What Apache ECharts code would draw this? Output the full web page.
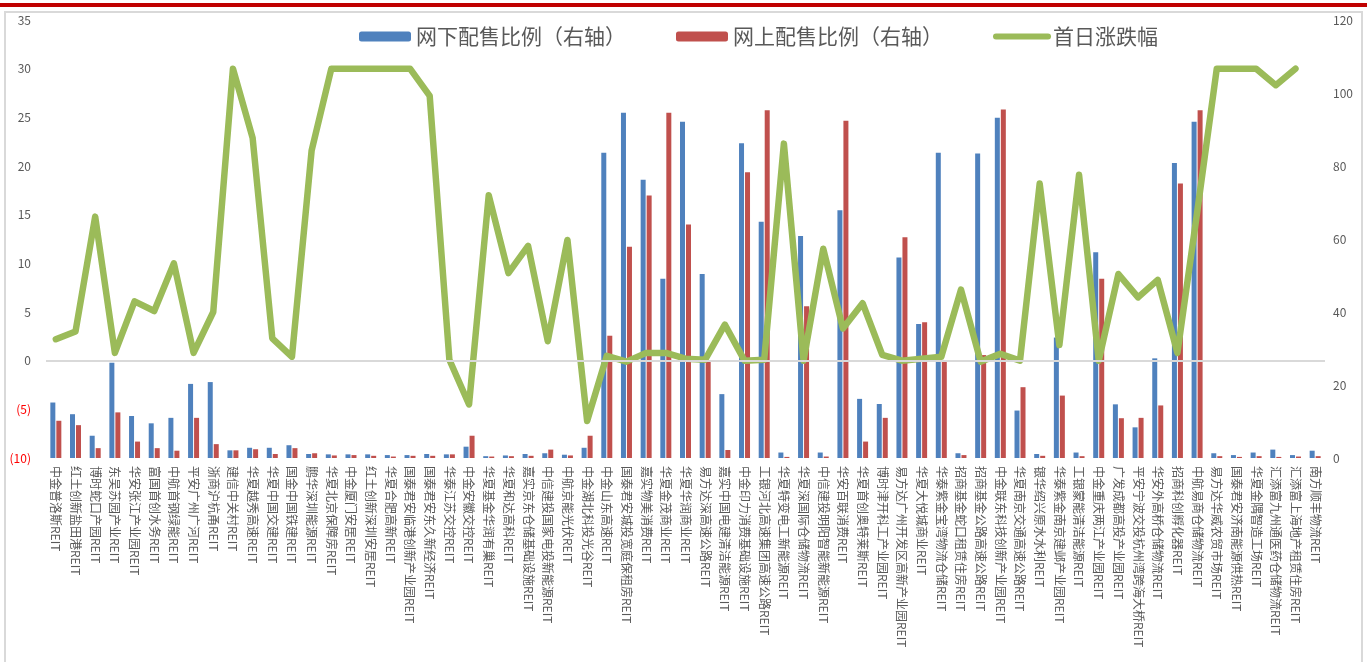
<!DOCTYPE html>
<html>
<head>
<meta charset="utf-8">
<script src="https://cdn.jsdelivr.net/npm/echarts@6/dist/echarts.min.js"></script>
<style>
  html, body { margin: 0; padding: 0; background: #fff; }
  #main { width: 1367px; height: 662px; }
</style>
</head>
<body>
<div id="main"></div>
<script type="text/javascript">
// REIT名称
var cats = ['中金普洛斯REIT','红土创新盐田港REIT','博时蛇口产园REIT','东吴苏园产业REIT','华安张江产业园REIT',
  '富国首创水务REIT','中航首钢绿能REIT','平安广州广河REIT','浙商沪杭甬REIT','建信中关村REIT',
  '华夏越秀高速REIT','华夏中国交建REIT','国金中国铁建REIT','鹏华深圳能源REIT','华夏北京保障房REIT',
  '中金厦门安居REIT','红土创新深圳安居REIT','华夏合肥高新REIT','国泰君安临港创新产业园REIT','国泰君安东久新经济REIT',
  '华泰江苏交控REIT','中金安徽交控REIT','华夏基金华润有巢REIT','华夏和达高科REIT','嘉实京东仓储基础设施REIT',
  '中信建投国家电投新能源REIT','中航京能光伏REIT','中金湖北科投光谷REIT','中金山东高速REIT','国泰君安城投宽庭保租房REIT',
  '嘉实物美消费REIT','华夏金茂商业REIT','华夏华润商业REIT','易方达深高速公路REIT','嘉实中国电建清洁能源REIT',
  '中金印力消费基础设施REIT','工银河北高速集团高速公路REIT','华夏特变电工新能源REIT','华夏深国际仓储物流REIT','中信建投明阳智能新能源REIT',
  '华安百联消费REIT','华夏首创奥特莱斯REIT','博时津开科工产业园REIT','易方达广州开发区高新产业园REIT','华夏大悦城商业REIT',
  '华泰紫金宝湾物流仓储REIT','招商基金蛇口租赁住房REIT','招商基金公路高速公路REIT','中金联东科技创新产业园REIT','华夏南京交通高速公路REIT',
  '银华绍兴原水水利REIT','华泰紫金南京建邺产业园REIT','工银蒙能清洁能源REIT','中金重庆两江产业园REIT','广发成都高投产业园REIT',
  '平安宁波交投杭州湾跨海大桥REIT','华安外高桥仓储物流REIT','招商科创孵化器REIT','中航易商仓储物流REIT','易方达华威农贸市场REIT',
  '国泰君安济南能源供热REIT','华夏金隅智造工场REIT','汇添富九州通医药仓储物流REIT','汇添富上海地产租赁住房REIT','南方顺丰物流REIT'];

// 网下配售比例（右轴）
var offline = [15.2, 12.0, 6.1, 26.1, 11.5, 9.5, 11.0, 20.3, 20.8, 2.1,
  2.8, 2.8, 3.5, 1.1, 1.0, 1.0, 1.0, 0.8, 0.8, 1.1,
  1.0, 3.1, 0.5, 0.7, 1.1, 1.3, 0.9, 2.8, 83.6, 94.6,
  76.2, 49.1, 92.1, 50.4, 17.5, 86.2, 64.7, 1.5, 60.8, 1.5,
  67.9, 16.2, 14.8, 54.9, 36.7, 83.6, 1.3, 83.4, 93.2, 13.0,
  1.1, 33.0, 1.5, 56.4, 14.7, 8.4, 27.3, 80.8, 92.1, 1.3,
  0.8, 1.5, 2.3, 0.8, 2.0];

// 网上配售比例（右轴）
var online = [10.2, 9.0, 2.7, 12.5, 4.5, 2.7, 2.0, 11.0, 3.8, 2.1,
  2.4, 1.1, 2.7, 1.3, 0.7, 0.8, 0.6, 0.4, 0.6, 0.6,
  1.0, 6.1, 0.4, 0.5, 0.6, 2.3, 0.7, 6.1, 33.5, 57.9,
  71.9, 94.6, 64.0, 26.8, 2.2, 78.3, 95.3, 0.3, 41.6, 0.4,
  92.4, 4.5, 11.0, 60.5, 37.2, 26.6, 0.8, 28.2, 95.5, 19.4,
  0.6, 17.1, 0.5, 49.1, 10.9, 11.0, 14.4, 75.2, 95.3, 0.5,
  0.3, 0.5, 0.3, 0.4, 0.5];

// 首日涨跌幅（左轴）
var firstDay = [2.2, 3.0, 14.8, 0.8, 6.1, 5.1, 10.0, 0.8, 5.0, 30,
  22.9, 2.3, 0.4, 21.6, 30, 30, 30, 30, 30, 27.2,
  0.1, -4.5, 17.0, 9.0, 11.8, 2.0, 12.4, -6.2, 0.5, -0.1,
  0.8, 0.8, 0.2, 0.1, 3.7, 0.0, 0.1, 22.3, 0.0, 11.5,
  3.3, 5.9, 0.6, 0.0, 0.2, 0.4, 7.3, -0.1, 0.7, 0.0,
  18.2, 1.6, 19.1, 0.0, 8.9, 6.5, 8.3, 0.8, 15.2, 30,
  30, 30, 28.3, 30, null];

var font = "'Noto Sans CJK SC', 'Noto Sans', sans-serif";
var chart = echarts.init(document.getElementById('main'));

var option = {
  backgroundColor: '#fff',
  textStyle: { fontFamily: font },
  animation: false,
  graphic: [
    { type: 'rect', shape: { x: 0, y: 3, width: 1367, height: 4 }, style: { fill: '#C00000' }, silent: true },
    { type: 'rect', shape: { x: 5, y: 12, width: 1357, height: 660 }, style: { fill: 'none', stroke: '#D9D9D9', lineWidth: 2 }, silent: true }
  ],
  legend: {
    left: 354,
    top: 21,
    itemWidth: 52,
    itemHeight: 10,
    itemGap: 50,
    textStyle: { fontSize: 21, color: '#595959', fontFamily: font },
    data: [
      '网下配售比例（右轴）',
      '网上配售比例（右轴）',
      { name: '首日涨跌幅', itemStyle: { opacity: 0 }, lineStyle: { width: 6, cap: 'round' } }
    ]
  },
  grid: { left: 46, right: 42, top: 20, bottom: 204, containLabel: false },
  xAxis: {
    type: 'category',
    data: cats,
    axisLine: { show: false },
    axisTick: { show: false },
    axisLabel: { interval: 0, rotate: -90, fontSize: 12, color: '#595959', margin: 8 }
  },
  yAxis: [
    {
      type: 'value', min: -10, max: 35, interval: 5,
      axisLine: { show: false }, axisTick: { show: false }, splitLine: { show: false },
      axisLabel: {
        fontSize: 12, color: '#595959', margin: 15,
        formatter: function (v) { return v < 0 ? '{neg|(' + Math.abs(v) + ')}' : v; },
        rich: { neg: { color: '#FF0000', fontSize: 12 } }
      }
    },
    {
      type: 'value', min: 0, max: 120, interval: 20,
      axisLine: { show: false }, axisTick: { show: false }, splitLine: { show: false },
      axisLabel: { fontSize: 12, color: '#595959', margin: 8 }
    }
  ],
  series: [
    {
      name: '网下配售比例（右轴）', type: 'bar', yAxisIndex: 1,
      barWidth: 5, barGap: '20%',
      itemStyle: { color: '#4F81BD' },
      data: offline
    },
    {
      name: '网上配售比例（右轴）', type: 'bar', yAxisIndex: 1,
      barWidth: 5, barGap: '20%',
      itemStyle: { color: '#C0504D' },
      data: online
    },
    {
      name: '首日涨跌幅', type: 'line', yAxisIndex: 0,
      symbol: 'none', connectNulls: false,
      lineStyle: { color: '#9BBB59', width: 6.5, join: 'round', cap: 'round' },
      itemStyle: { color: '#9BBB59' },
      markLine: {
        silent: true, symbol: ['none', 'none'], label: { show: false },
        lineStyle: { color: '#D9D9D9', width: 2, type: 'solid' },
        data: [{ yAxis: 0 }]
      },
      data: firstDay,
      z: 3
    }
  ]
};
chart.setOption(option);
</script>
</body>
</html>
